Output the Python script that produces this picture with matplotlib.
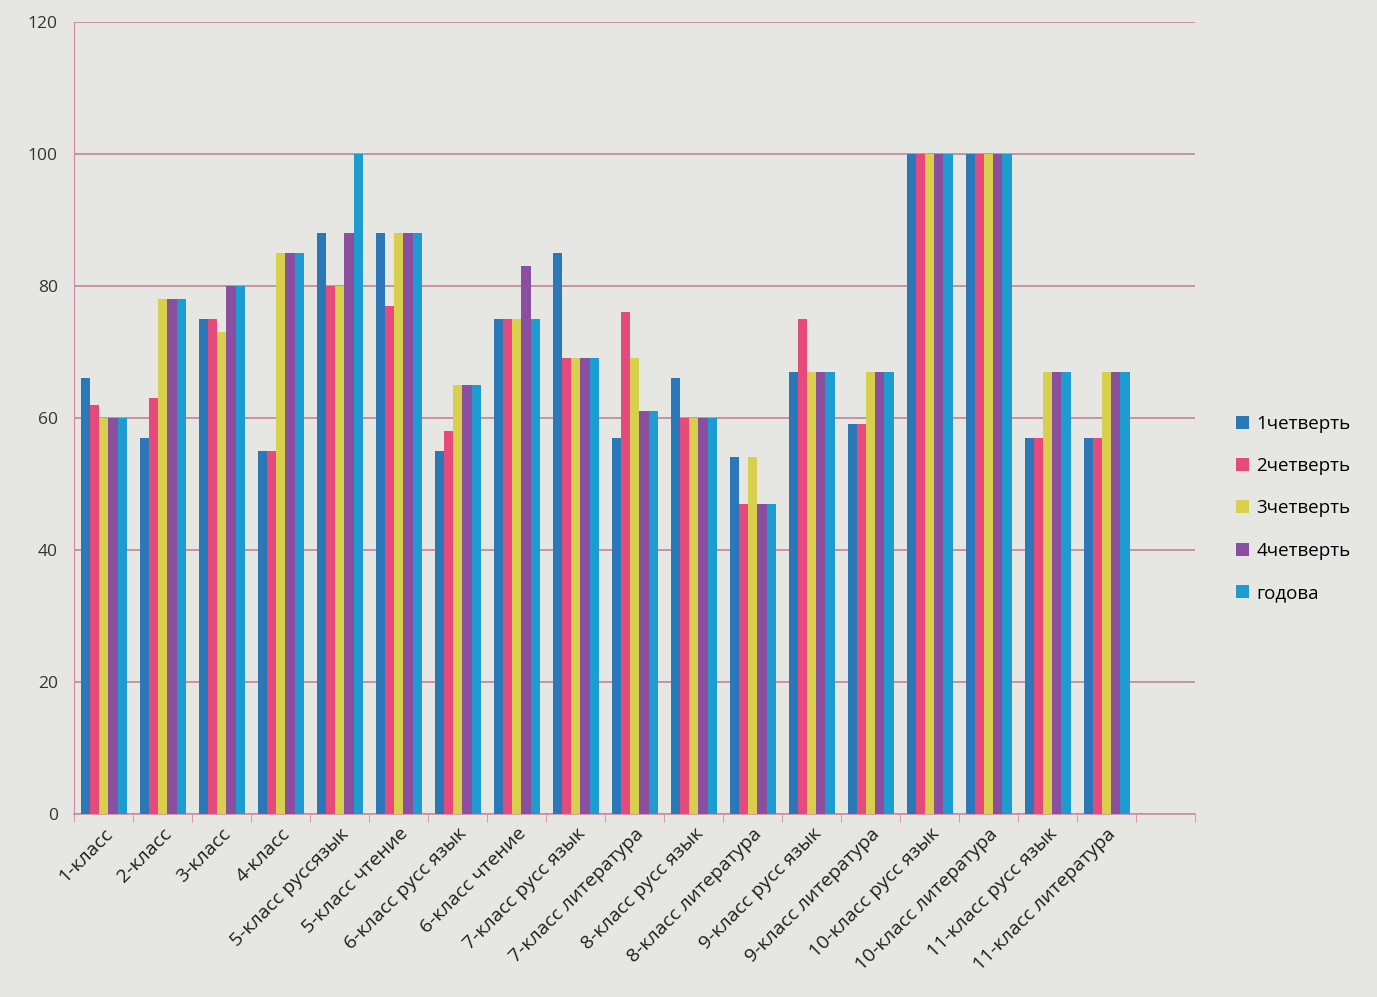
import matplotlib
matplotlib.use("Agg")
import matplotlib.pyplot as plt
import numpy as np

plt.rcParams['font.family'] = ['Open Sans', 'DejaVu Sans']

categories = ["1-класс", "2-класс", "3-класс", "4-класс", "5-класс руссязык",
              "5-класс чтение", "6-класс русс язык", "6-класс чтение",
              "7-класс русс язык", "7-класс литература", "8-класс русс язык",
              "8-класс литература", "9-класс русс язык", "9-класс литература",
              "10-класс русс язык", "10-класс литература", "11-класс русс язык",
              "11-класс литература"]
series_names = ["1четверть", "2четверть", "3четверть", "4четверть", "годова"]
q1 = [66, 57, 75, 55, 88, 88, 55, 75, 85, 57, 66, 54, 67, 59, 100, 100, 57, 57]
q2 = [62, 63, 75, 55, 80, 77, 58, 75, 69, 76, 60, 47, 75, 59, 100, 100, 57, 57]
q3 = [60, 78, 73, 85, 80, 88, 65, 75, 69, 69, 60, 54, 67, 67, 100, 100, 67, 67]
q4 = [60, 78, 80, 85, 88, 88, 65, 83, 69, 61, 60, 47, 67, 67, 100, 100, 67, 67]
year = [60, 78, 80, 85, 100, 88, 65, 75, 69, 61, 60, 47, 67, 67, 100, 100, 67, 67]
series = [q1, q2, q3, q4, year]
colors = ["#2b78b8", "#e6497c", "#d8cf4c", "#8a4f9e", "#1c9cd0"]

bg = "#e6e6e3"
fig = plt.figure(figsize=(13.77, 9.97), dpi=100, facecolor=bg)
ax = fig.add_axes([0.054, 0.184, 0.814, 0.794], facecolor=bg)

n = len(categories)
x = np.arange(n)
w = 0.155
for i, (vals, c, name) in enumerate(zip(series, colors, series_names)):
    ax.bar(x + (i - 2) * w, vals, width=w, color=c, label=name, zorder=3)

ax.set_ylim(0, 120)
# one empty slot after the last category, as in the original chart
ax.set_xlim(-0.5, n + 0.5)
ax.set_yticks(np.arange(0, 121, 20))
ax.yaxis.grid(True, color="#c07a96", linewidth=1.1, zorder=0)
ax.set_xticks(x)
ax.set_xticklabels(categories, rotation=45, ha="right", rotation_mode="anchor",
                   fontsize=14, color="#1e1e1e")
ax.set_xticks(np.arange(-0.5, n + 1, 1), minor=True)
ax.tick_params(axis="x", which="major", length=0, pad=8)
ax.tick_params(axis="x", which="minor", length=6, color="#d08aa8")
ax.tick_params(axis="y", length=0, labelsize=12.5, labelcolor="#333333", pad=12)
for s in ["top", "right"]:
    ax.spines[s].set_visible(False)
ax.spines["left"].set_color("#d08aa8")
ax.spines["bottom"].set_color("#d08aa8")
ax.spines["bottom"].set_linewidth(1.2)

leg = fig.legend(loc="center left", bbox_to_anchor=(0.885, 0.49), frameon=False,
                 fontsize=13.5, handlelength=0.7, handleheight=0.7,
                 labelspacing=1.3, handletextpad=0.4)

fig.savefig("out.png", dpi=100, facecolor=bg)
